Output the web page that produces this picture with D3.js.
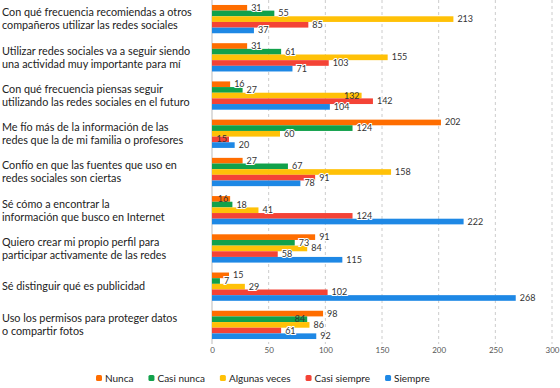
<!DOCTYPE html>
<html>
<head>
<meta charset="utf-8">
<script src="https://cdn.jsdelivr.net/npm/d3@7"></script>
<style>
  body { margin: 0; background: #fff; }
  text { font-family: Lato, "Open Sans", sans-serif; }
</style>
</head>
<body>
<svg width="560" height="388"></svg>
<script>
"use strict";
// categorías (una por grupo)
var categories = [
  "Con qué frecuencia recomiendas a otros\ncompañeros utilizar las redes sociales",
  "Utilizar redes sociales va a seguir siendo\nuna actividad muy importante para mí",
  "Con qué frecuencia piensas seguir\nutilizando las redes sociales en el futuro",
  "Me fío más de la información de las\nredes que la de mi familia o profesores",
  "Confío en que las fuentes que uso en\nredes sociales son ciertas",
  "Sé cómo a encontrar la\ninformación que busco en Internet",
  "Quiero crear mi propio perfil para\nparticipar activamente de las redes",
  "Sé distinguir qué es publicidad",
  "Uso los permisos para proteger datos\no compartir fotos"
];
var seriesNames = ["Nunca", "Casi nunca", "Algunas veces", "Casi siempre", "Siempre"];
var seriesColors = ["#ff6d00", "#11a14b", "#ffc107", "#f44336", "#1e88e5"];
var nunca        = [31, 31, 16, 202, 27, 16, 91, 15, 98];
var casiNunca    = [55, 61, 27, 124, 67, 18, 73, 7, 84];
var algunasVeces = [213, 155, 132, 60, 158, 41, 84, 29, 86];
var casiSiempre  = [85, 103, 142, 15, 91, 124, 58, 102, 61];
var siempre      = [37, 71, 104, 20, 78, 222, 115, 268, 92];
var xTicks = [0, 50, 100, 150, 200, 250, 300];

var series = [nunca, casiNunca, algunasVeces, casiSiempre, siempre];

var svg = d3.select('svg');
var plotLeft = 212, plotRight = 552, plotTop = 0, plotBottom = 344;

var x = d3.scaleLinear().domain([0, 300]).range([plotLeft, plotRight]);
var y = d3.scaleBand().domain(d3.range(categories.length)).range([plotTop, plotBottom]).paddingInner(0.26).paddingOuter(0.13);
var ySub = d3.scaleBand().domain(d3.range(seriesNames.length)).range([0, y.bandwidth()]);

// rejilla
svg.append('g').selectAll('line')
  .data(xTicks.slice(1))
  .enter().append('line')
  .attr('x1', function (d) { return x(d); })
  .attr('x2', function (d) { return x(d); })
  .attr('y1', plotTop).attr('y2', plotBottom)
  .attr('stroke', '#ccc')
  .attr('stroke-dasharray', '3,3');

svg.append('line')
  .attr('x1', x(0)).attr('x2', x(0))
  .attr('y1', plotTop).attr('y2', plotBottom)
  .attr('stroke', '#bbb');

// eje x
var xAxis = svg.append('g')
  .attr('transform', 'translate(0,' + plotBottom + ')')
  .call(d3.axisBottom(x).tickValues(xTicks).tickSize(0).tickPadding(3));
xAxis.select('.domain').remove();
xAxis.selectAll('text').attr('font-size', 8).attr('fill', '#555')
  .style('font-family', 'Lato, sans-serif');

// etiquetas de categoría
var catG = svg.append('g');
categories.forEach(function (c, i) {
  var lines = c.split('\n');
  var cy = y(i) + y.bandwidth() / 2;
  var t = catG.append('text')
    .attr('x', 2)
    .attr('font-size', 10.8)
    .attr('fill', '#222');
  lines.forEach(function (l, j) {
    t.append('tspan')
      .attr('x', 2)
      .attr('y', cy + (j - (lines.length - 1) / 2) * 13 + 3.8)
      .text(l);
  });
});

// barras
var barG = svg.append('g');
series.forEach(function (vals, s) {
  var g = barG.append('g');
  g.selectAll('rect')
    .data(vals)
    .enter().append('rect')
    .attr('x', x(0))
    .attr('y', function (d, i) { return y(i) + ySub(s); })
    .attr('width', function (d) { return x(d) - x(0); })
    .attr('height', ySub.bandwidth())
    .attr('fill', seriesColors[s]);
});

// valores: si una etiqueta choca con la siguiente del grupo, va dentro de la barra
var labelG = svg.append('g');
categories.forEach(function (c, i) {
  var labels = series.map(function (vals, s) {
    var t = labelG.append('text')
      .attr('x', x(vals[i]) + 4)
      .attr('y', y(i) + ySub(s) + ySub.bandwidth() / 2 + 3)
      .attr('font-size', 9)
      .attr('fill', '#333')
      .text(vals[i]);
    return { node: t, x0: x(vals[i]) + 4, w: t.node().getComputedTextLength(), v: vals[i] };
  });
  labels.forEach(function (l, s) {
    var next = labels[s + 1];
    var overlap = next && l.x0 < next.x0 + next.w && next.x0 < l.x0 + l.w;
    if (overlap) {
      l.node.attr('x', x(l.v) - 2).attr('text-anchor', 'end');
    } else {
      l.node.attr('stroke', '#fff').attr('stroke-width', 2).attr('paint-order', 'stroke');
    }
  });
});

// leyenda
var legend = svg.append('g').attr('transform', 'translate(96,378)');
var lx = 0;
seriesNames.forEach(function (n, i) {
  var item = legend.append('g').attr('transform', 'translate(' + lx + ',0)');
  item.append('rect')
    .attr('x', 0).attr('y', -3)
    .attr('width', 6).attr('height', 6)
    .attr('rx', 1.5)
    .attr('fill', seriesColors[i]);
  var t = item.append('text')
    .attr('x', 9).attr('y', 3.5)
    .attr('font-size', 10)
    .attr('fill', '#222')
    .text(n);
  lx += 9 + t.node().getComputedTextLength() + 15;
});
</script>
</body>
</html>
